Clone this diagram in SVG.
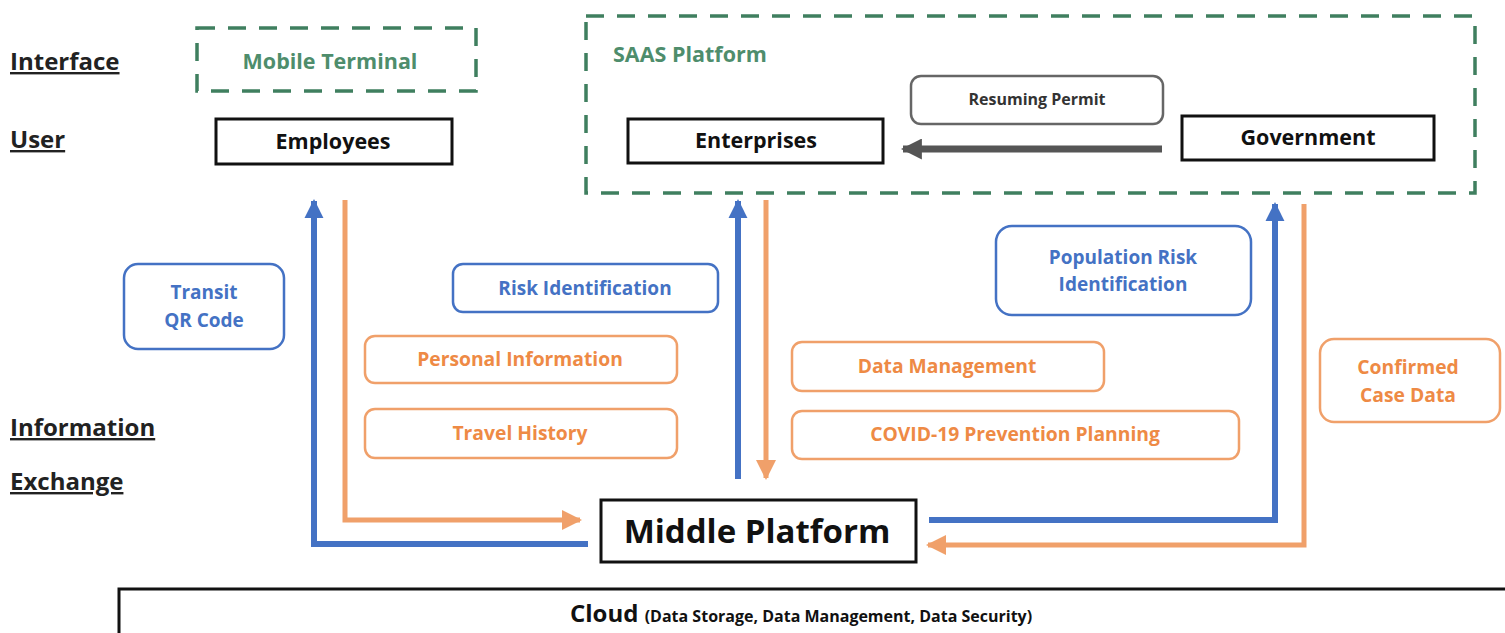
<svg xmlns="http://www.w3.org/2000/svg" width="1505" height="633" viewBox="0 0 1505 633">
<defs>
<style>
text{font-family:"Open Sans","Liberation Sans",sans-serif;font-weight:bold}
.lbl{font-size:24px;fill:#222;text-decoration:underline}
.dash{fill:none;stroke:#3f7f5f;stroke-width:3.5;stroke-dasharray:18 13}
.green{fill:#4e8d6c;font-size:21.5px}
.user{fill:#fff;stroke:#111;stroke-width:3}
.ut{font-size:21.5px;fill:#111;text-anchor:middle}
.bbox{fill:#fff;stroke:#4472c4;stroke-width:2.5}
.obox{fill:#fff;stroke:#f0a06a;stroke-width:2.5}
.bt{fill:#4472c4;font-size:19px;text-anchor:middle}
.ot{fill:#ee8a45;font-size:19.3px;text-anchor:middle}
.bl{fill:none;stroke:#4472c4;stroke-width:6}
.ol{fill:none;stroke:#f0a06a;stroke-width:5}
</style>
<marker id="ab" viewBox="0 0 10 10" refX="9" refY="5" markerWidth="3.2" markerHeight="3.2" orient="auto" markerUnits="strokeWidth"><path d="M0,0L10,5L0,10z" fill="#4472c4"/></marker>
<marker id="ao" viewBox="0 0 10 10" refX="9" refY="5" markerWidth="4" markerHeight="4" orient="auto" markerUnits="strokeWidth"><path d="M0,0L10,5L0,10z" fill="#f0a06a"/></marker>
<marker id="ag" viewBox="0 0 10 10" refX="9" refY="5" markerWidth="3" markerHeight="3" orient="auto" markerUnits="strokeWidth"><path d="M0,0L10,5L0,10z" fill="#555"/></marker>
</defs>
<rect width="1505" height="633" fill="#fff"/>

<g id="layer-labels">
<text class="lbl" x="10" y="70">Interface</text>
<text class="lbl" x="10" y="148">User</text>
<text class="lbl" x="10" y="436">Information</text>
<text class="lbl" x="10" y="490">Exchange</text>
</g>

<g id="mobile-terminal">
<rect class="dash" x="197" y="28" width="279" height="63"/>
<text class="green" x="330" y="69" text-anchor="middle">Mobile Terminal</text>
</g>

<g id="saas-platform">
<rect class="dash" x="586" y="16" width="889" height="177"/>
<text class="green" x="613" y="62">SAAS Platform</text>
</g>

<g id="employees">
<rect class="user" x="216" y="119" width="236" height="45"/>
<text class="ut" x="333" y="149">Employees</text>
</g>

<g id="enterprises">
<rect class="user" x="628" y="119" width="255" height="44"/>
<text class="ut" x="756" y="148">Enterprises</text>
</g>

<g id="government">
<rect class="user" x="1182" y="116" width="252" height="44"/>
<text class="ut" x="1308" y="145">Government</text>
</g>

<g id="resuming-permit">
<rect x="911" y="76" width="252" height="48" rx="10" fill="#fff" stroke="#666" stroke-width="2.5"/>
<text x="1037" y="105" text-anchor="middle" font-size="16" fill="#333">Resuming Permit</text>
</g>

<g id="transit-qr">
<rect class="bbox" x="124" y="264" width="160" height="85" rx="14"/>
<text class="bt" x="204" y="299">Transit</text>
<text class="bt" x="204" y="327">QR Code</text>
</g>

<g id="risk-identification">
<rect class="bbox" x="453" y="264" width="265" height="48" rx="10"/>
<text class="bt" x="585" y="295">Risk Identification</text>
</g>

<g id="personal-information">
<rect class="obox" x="365" y="336" width="312" height="47" rx="10"/>
<text class="ot" x="520" y="366">Personal Information</text>
</g>

<g id="travel-history">
<rect class="obox" x="365" y="409" width="312" height="49" rx="10"/>
<text class="ot" x="520" y="440">Travel History</text>
</g>

<g id="population-risk">
<rect class="bbox" x="996" y="226" width="255" height="89" rx="16"/>
<text class="bt" x="1123" y="264">Population Risk</text>
<text class="bt" x="1123" y="291">Identification</text>
</g>

<g id="data-management">
<rect class="obox" x="792" y="342" width="312" height="49" rx="10"/>
<text class="ot" x="947" y="373">Data Management</text>
</g>

<g id="covid-planning">
<rect class="obox" x="792" y="411" width="447" height="48" rx="10"/>
<text class="ot" x="1015" y="441">COVID-19 Prevention Planning</text>
</g>

<g id="confirmed-case">
<rect class="obox" x="1320" y="339" width="180" height="83" rx="14"/>
<text class="ot" x="1408" y="374">Confirmed</text>
<text class="ot" x="1408" y="402">Case Data</text>
</g>

<g id="middle-platform">
<rect class="user" x="601" y="500" width="315" height="62"/>
<text x="757" y="543" text-anchor="middle" font-size="33" fill="#111">Middle Platform</text>
</g>

<g id="cloud">
<rect x="119" y="589" width="1400" height="60" fill="#fff" stroke="#111" stroke-width="3"/>
<text x="570" y="622" fill="#111" font-size="24">Cloud <tspan font-size="16">(Data Storage, Data Management, Data Security)</tspan></text>
</g>

<g id="connectors">
<path class="bl" d="M588,544H314V201" marker-end="url(#ab)"/>
<path class="ol" d="M345,200V520H580" marker-end="url(#ao)"/>
<path class="bl" d="M738,479V201" marker-end="url(#ab)"/>
<path class="ol" d="M766,200V478" marker-end="url(#ao)"/>
<path class="bl" d="M929,520H1275V204" marker-end="url(#ab)"/>
<path class="ol" d="M1304,204V545H928" marker-end="url(#ao)"/>
<path d="M1162,149H903" fill="none" stroke="#555" stroke-width="7" marker-end="url(#ag)"/>
</g>
</svg>
